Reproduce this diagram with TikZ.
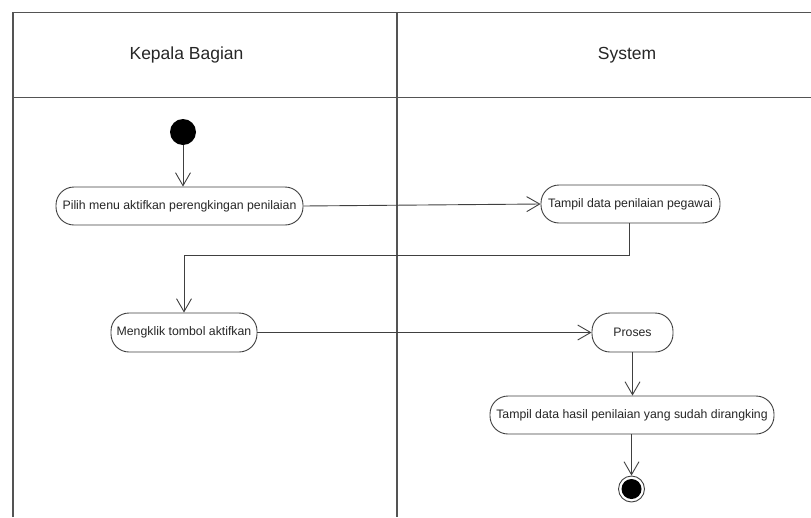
\documentclass[tikz,border=0pt]{standalone}
\usepackage{fontspec}
\setmainfont{Liberation Sans}
\usetikzlibrary{arrows.meta}
\definecolor{lanec}{gray}{0.33}
\definecolor{linec}{gray}{0.25}
\tikzset{
  lane/.style={draw=lanec, line width=1.4pt},
  act/.style={draw=linec, line width=0.9pt, rounded corners=18pt, fill=white, inner sep=0pt,
    font=\fontsize{12.3}{14}\selectfont, text=black!85},
  flow/.style={draw=linec, line width=0.9pt, -{Straight Barb[length=13pt,width=15pt,line width=0.9pt]}},
  hdr/.style={font=\fontsize{17.5}{20}\selectfont, text=black!85},
}
\begin{document}
\begin{tikzpicture}[x=1pt,y=-1pt]
\useasboundingbox (0,0) rectangle (811,517);
% swimlanes
\draw[lane] (13,517) -- (13,12.5) -- (811,12.5);
\draw[lane] (13,97.5) -- (811,97.5);
\draw[lane] (397,12.5) -- (397,517);
\node[hdr] (h1) at (186.5,55) {Kepala Bagian};
\node[hdr] (h2) at (627,55) {System};
% nodes
\node[circle, fill=black, minimum size=26pt, inner sep=0pt] (start) at (183,132) {};
\node[act, minimum width=247pt, minimum height=38pt] (n1) at (179.5,206) {Pilih menu aktifkan perengkingan penilaian};
\node[act, minimum width=179pt, minimum height=38pt] (n2) at (630.5,204) {Tampil data penilaian pegawai};
\node[act, minimum width=146pt, minimum height=39pt] (n3) at (184,332.5) {Mengklik tombol aktifkan};
\node[act, minimum width=81pt, minimum height=39pt] (n4) at (632.5,332.5) {Proses};
\node[act, minimum width=284pt, minimum height=38pt] (n5) at (632,415) {Tampil data hasil penilaian yang sudah dirangking};
\node[circle, draw=linec, line width=0.9pt, fill=white, minimum size=26pt, inner sep=0pt] (end) at (631.5,489) {};
\node[circle, fill=black, minimum size=20pt, inner sep=0pt] (endin) at (end.center) {};
\coordinate (bend) at (629,255.5);
% flows
\draw[flow] (start) -- (start |- n1.north);
\draw[flow] (n1.east) -- (n2.west);
\draw[flow] (bend |- n2.south) -- (bend) -| (n3.north);
\draw[flow] (n3.east) -- (n4.west);
\draw[flow] (n4.south) -- (n4.south |- n5.north);
\draw[flow] (end |- n5.south) -- (end.north);
\end{tikzpicture}
\end{document}
